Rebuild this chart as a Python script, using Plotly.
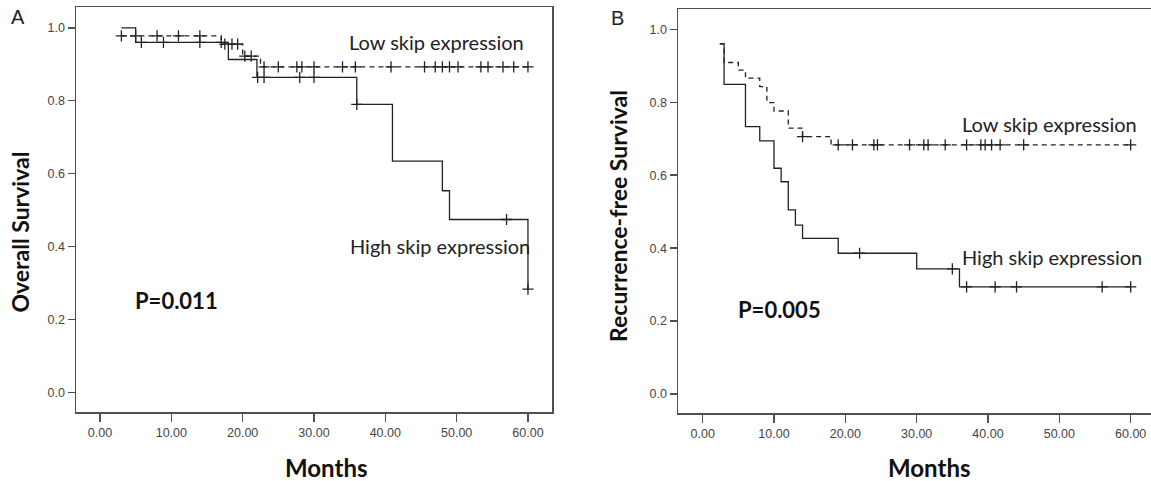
import numpy as np
import plotly.graph_objects as go

# ---------------- data ----------------
# Panel A - Overall survival
a_high_t = [3, 5, 18, 22, 36, 41, 48, 49, 60]
a_high_s = [1.0, 0.96, 0.913, 0.864, 0.79, 0.634, 0.553, 0.474, 0.283]
a_high_cens = [5.8, 8.9, 14, 17, 22.1, 23, 28, 30, 36, 57, 60]

a_low_t = [3, 17, 20, 22.5, 60]
a_low_s = [0.978, 0.955, 0.922, 0.893, 0.893]
a_low_cens = [3, 5, 8, 11, 14, 17.5, 18.5, 19.3, 20.3, 21.2, 23, 25, 27.6, 28.3,
              30, 34, 35.8, 40.8, 45.5, 47, 48, 49, 50.2, 53.4, 54.4, 56.5, 58, 60]

# Panel B - Recurrence-free survival
b_high_t = [2.4, 3, 6, 8, 10, 11, 12, 13, 14, 19, 30, 36, 60]
b_high_s = [0.96, 0.849, 0.733, 0.694, 0.619, 0.582, 0.505, 0.463, 0.427, 0.386, 0.343, 0.294, 0.294]
b_high_cens = [22, 35, 37, 41, 44, 56, 60]

b_low_t = [2.4, 3, 5, 6, 8, 9, 10, 12, 14, 18, 60]
b_low_s = [0.96, 0.909, 0.888, 0.866, 0.843, 0.799, 0.776, 0.729, 0.706, 0.683, 0.683]
b_low_cens = [14, 19, 21, 24, 24.5, 29, 31, 31.6, 34, 37, 39, 39.6, 40.5, 41.7, 45, 60]

x_ticks = [0, 10, 20, 30, 40, 50, 60]
y_ticks = [0.0, 0.2, 0.4, 0.6, 0.8, 1.0]

W, H = 1151, 481
CURVE = "#222222"
FRAME = "#505050"


def step_value(t, times, surv):
    idx = np.searchsorted(np.array(times), np.array(t), side="right") - 1
    return list(np.array(surv)[np.clip(idx, 0, len(surv) - 1)])


fig = go.Figure()


def add_group(times, surv, cens, dashed, xa, ya):
    line = dict(color=CURVE, width=1.3, shape="hv")
    if dashed:
        line["dash"] = "5px,4px"
    fig.add_trace(go.Scatter(x=times, y=surv, mode="lines", line=line,
                             xaxis=xa, yaxis=ya, showlegend=False, hoverinfo="skip"))
    fig.add_trace(go.Scatter(x=cens, y=step_value(cens, times, surv), mode="markers",
                             marker=dict(symbol="cross-thin", size=8,
                                         line=dict(color=CURVE, width=1.3)),
                             xaxis=xa, yaxis=ya, showlegend=False, hoverinfo="skip"))


add_group(a_low_t, a_low_s, a_low_cens, True, "x", "y")
add_group(a_high_t, a_high_s, a_high_cens, False, "x", "y")
add_group(b_low_t, b_low_s, b_low_cens, True, "x2", "y2")
add_group(b_high_t, b_high_s, b_high_cens, False, "x2", "y2")

tickfont = dict(family="Liberation Sans, Arial, sans-serif", size=12.5, color="#444444")


def xaxis(domain, rng, anchor, mirror):
    return dict(domain=domain, range=rng, anchor=anchor, tickvals=x_ticks,
                ticktext=[f"{v:.2f}" for v in x_ticks], ticks="outside", ticklen=8,
                tickwidth=1.5, tickcolor=FRAME, showline=True, linecolor=FRAME,
                linewidth=1.5, mirror=mirror, showgrid=False, zeroline=False,
                tickfont=tickfont, automargin=False)


def yaxis(domain, rng, anchor, mirror):
    return dict(domain=domain, range=rng, anchor=anchor, tickvals=y_ticks,
                ticktext=[f"{v:.1f}" for v in y_ticks], ticks="outside", ticklen=7,
                tickwidth=1.5, tickcolor=FRAME, showline=True, linecolor=FRAME,
                linewidth=1.5, mirror=mirror, showgrid=False, zeroline=False,
                tickfont=tickfont, automargin=False)


fig.update_layout(
    width=W, height=H, margin=dict(l=0, r=0, t=0, b=0),
    paper_bgcolor="white", plot_bgcolor="white",
    xaxis=xaxis([76 / W, 552 / W], [-3.365, 63.37], "y", True),
    yaxis=yaxis([1 - 412 / H, 1 - 7 / H], [-0.054, 1.057], "x", True),
    xaxis2=xaxis([678 / W, 1.0], [-3.46, 62.85], "y2", True),
    yaxis2=yaxis([1 - 413 / H, 1 - 9 / H], [-0.052, 1.0557], "x2", False),
)

label_font = dict(family="Lato, Carlito, sans-serif", size=20, color="#222222")
bold_font = dict(family="Lato, Carlito, sans-serif", size=23, color="#111111")
months_font = dict(family="Lato, Carlito, sans-serif", size=24, color="#111111")
pfont = dict(family="Lato, Carlito, sans-serif", size=22, color="#111111")
panel_font = dict(family="Liberation Sans, Arial, sans-serif", size=20, color="#222222")

ann = []
# curve labels (data coordinates)
ann.append(dict(text="Low skip expression", x=34.6, y=0.962, xref="x", yref="y",
                xanchor="left", yanchor="middle", showarrow=False, font=label_font))
ann.append(dict(text="High skip expression", x=34.7, y=0.402, xref="x", yref="y",
                xanchor="left", yanchor="middle", showarrow=False, font=label_font))
ann.append(dict(text="<b>P=0.011</b>", x=4.6, y=0.253, xref="x", yref="y",
                xanchor="left", yanchor="middle", showarrow=False, font=pfont))
ann.append(dict(text="Low skip expression", x=36.07, y=0.740, xref="x2", yref="y2",
                xanchor="left", yanchor="middle", showarrow=False, font=label_font))
ann.append(dict(text="High skip expression", x=36.07, y=0.376, xref="x2", yref="y2",
                xanchor="left", yanchor="middle", showarrow=False, font=label_font))
ann.append(dict(text="<b>P=0.005</b>", x=4.63, y=0.232, xref="x2", yref="y2",
                xanchor="left", yanchor="middle", showarrow=False, font=pfont))
# axis titles
ann.append(dict(text="<b>Overall Survival</b>", x=19 / W, y=1 - 232.5 / H, xref="paper", yref="paper",
                textangle=-90, xanchor="center", yanchor="middle", showarrow=False, font=bold_font))
ann.append(dict(text="<b>Recurrence-free Survival</b>", x=617.5 / W, y=1 - 216.5 / H, xref="paper",
                yref="paper", textangle=-90, xanchor="center", yanchor="middle", showarrow=False,
                font=bold_font))
ann.append(dict(text="<b>Months</b>", x=326 / W, y=1 - 467 / H, xref="paper", yref="paper",
                xanchor="center", yanchor="middle", showarrow=False, font=months_font))
ann.append(dict(text="<b>Months</b>", x=929.3 / W, y=1 - 467 / H, xref="paper", yref="paper",
                xanchor="center", yanchor="middle", showarrow=False, font=months_font))
# panel letters
ann.append(dict(text="A", x=18 / W, y=1 - 16.7 / H, xref="paper", yref="paper",
                xanchor="center", yanchor="middle", showarrow=False, font=panel_font))
ann.append(dict(text="B", x=617.5 / W, y=1 - 18.5 / H, xref="paper", yref="paper",
                xanchor="center", yanchor="middle", showarrow=False, font=panel_font))
fig.update_layout(annotations=ann)

fig.write_html(
    "out.html",
    config={"displayModeBar": False, "staticPlot": True},
    post_script="document.body.style.margin='0';document.body.style.overflow='hidden';",
)
